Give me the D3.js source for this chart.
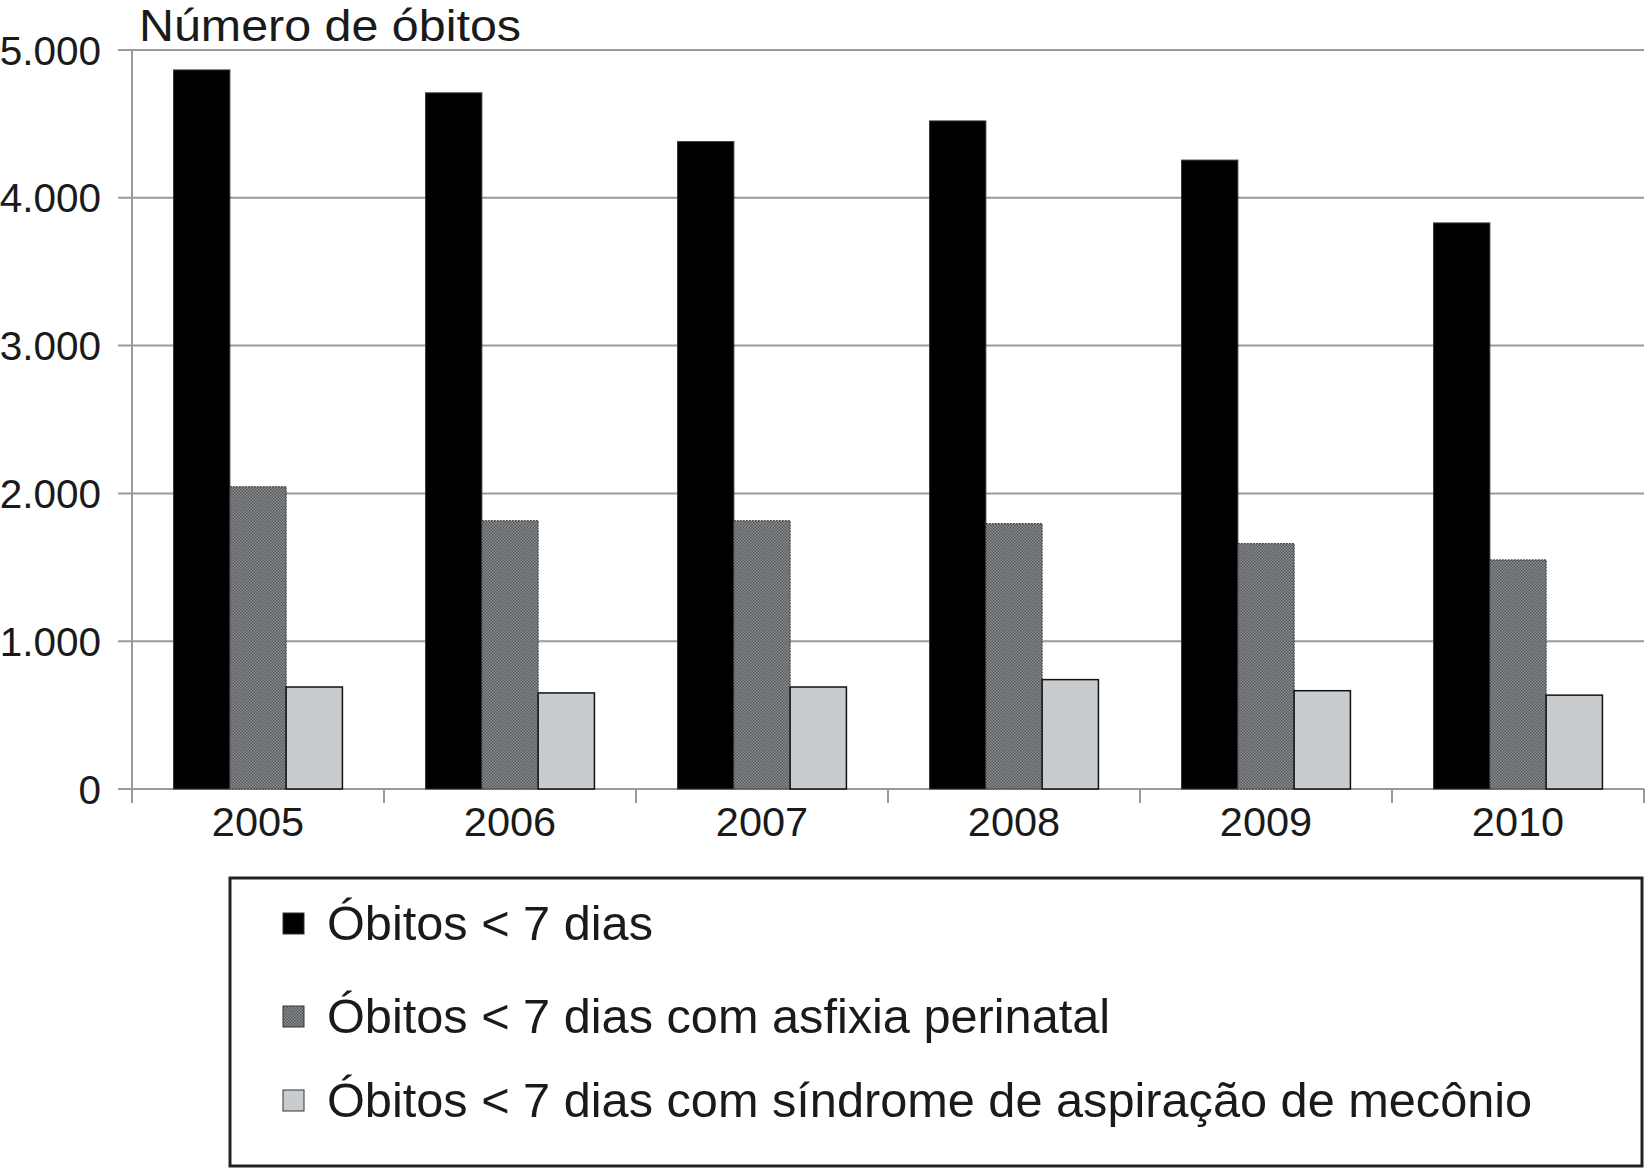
<!DOCTYPE html>
<html>
<head>
<meta charset="utf-8">
<script src="https://cdn.jsdelivr.net/npm/d3@7"></script>
<style>
  html, body { margin: 0; padding: 0; background: #fff; }
  svg { display: block; }
  text { font-family: "Liberation Sans", Arial, Helvetica, sans-serif; fill: #1a1a1a; }
</style>
</head>
<body>
<svg id="chart" width="1645" height="1170"></svg>
<script>
const years = ["2005", "2006", "2007", "2008", "2009", "2010"];
const seriesNames = [
  "Óbitos < 7 dias",
  "Óbitos < 7 dias com asfixia perinatal",
  "Óbitos < 7 dias com síndrome de aspiração de mecônio"
];
const obitos7 = [4865, 4710, 4380, 4520, 4255, 3830];
const asfixia = [2045, 1815, 1815, 1795, 1660, 1550];
const aspiracao = [690, 650, 690, 740, 665, 635];
const yTicks = [0, 1000, 2000, 3000, 4000, 5000];
const yTitle = "Número de óbitos";

const seriesValues = [obitos7, asfixia, aspiracao];

const svg = d3.select("#chart");
const defs = svg.append("defs");
const pat = defs.append("pattern").attr("id", "hatch")
  .attr("width", 3).attr("height", 3).attr("patternUnits", "userSpaceOnUse");
pat.append("rect").attr("width", 3).attr("height", 3).attr("fill", "#8d9093");
pat.append("rect").attr("x", 0).attr("y", 0).attr("width", 1.5).attr("height", 1.5).attr("fill", "#55585a");
pat.append("rect").attr("x", 1.5).attr("y", 1.5).attr("width", 1.5).attr("height", 1.5).attr("fill", "#55585a");

const fills = ["#000000", "url(#hatch)", "#c9ccce"];
const strokes = ["#333", "#333", "#111"];

const plotLeft = 132, plotRight = 1644, plotTop = 50, plotBottom = 789;

const y = d3.scaleLinear().domain([0, 5000]).range([plotBottom, plotTop]);
const x0 = d3.scaleBand().domain(years).range([plotLeft, plotRight]).paddingInner(0).paddingOuter(0);
const bw = x0.bandwidth();
const x1 = d3.scaleBand().domain(d3.range(seriesNames.length))
  .range([bw * 0.165, bw * 0.835]).padding(0);

const fmt = v => d3.format(",")(v).replace(/,/g, ".");

// gridlines
svg.append("g").selectAll("line").data(yTicks).join("line")
  .attr("x1", plotLeft - 14).attr("x2", plotRight)
  .attr("y1", d => y(d)).attr("y2", d => y(d))
  .attr("stroke", "#9a9a9a").attr("stroke-width", 2);

// y axis line
svg.append("line").attr("x1", plotLeft).attr("x2", plotLeft)
  .attr("y1", plotTop).attr("y2", plotBottom + 14)
  .attr("stroke", "#9a9a9a").attr("stroke-width", 2);

// x ticks at band boundaries
const bounds = years.map(d => x0(d)).concat([plotRight]);
svg.append("g").selectAll("line").data(bounds.slice(1)).join("line")
  .attr("x1", d => d).attr("x2", d => d)
  .attr("y1", plotBottom).attr("y2", plotBottom + 14)
  .attr("stroke", "#9a9a9a").attr("stroke-width", 2);

// y tick labels
svg.append("g").selectAll("text").data(yTicks).join("text")
  .attr("x", 101).attr("y", d => y(d)).attr("dy", "0.36em")
  .attr("text-anchor", "end").attr("font-size", 40.5)
  .text(d => fmt(d));

// bars
const groups = svg.append("g").selectAll("g").data(years).join("g")
  .attr("transform", d => `translate(${x0(d)},0)`);
groups.selectAll("rect").data((d, i) => seriesValues.map((s, k) => ({k, v: s[i]}))).join("rect")
  .attr("x", d => x1(d.k))
  .attr("width", x1.bandwidth())
  .attr("y", d => y(d.v))
  .attr("height", d => y(0) - y(d.v))
  .attr("fill", d => fills[d.k])
  .attr("stroke", d => strokes[d.k])
  .attr("stroke-width", d => d.k === 2 ? 1.5 : 1)
  .attr("stroke-dasharray", d => d.k === 1 ? "2,1" : null);

// x labels
svg.append("g").selectAll("text").data(years).join("text")
  .attr("x", d => x0(d) + bw / 2).attr("y", 836)
  .attr("text-anchor", "middle").attr("font-size", 41.5)
  .text(d => d);

// y title
svg.append("text").attr("transform", "translate(139,41) scale(1.1,1)")
  .attr("font-size", 44).text(yTitle);

// legend
svg.append("rect").attr("x", 230).attr("y", 878).attr("width", 1412).attr("height", 288)
  .attr("fill", "none").attr("stroke", "#222").attr("stroke-width", 3);
const rowY = [940, 1033, 1117];
const lg = svg.append("g").selectAll("g").data(seriesNames).join("g");
lg.append("rect")
  .attr("x", 283).attr("y", (d, i) => rowY[i] - 27)
  .attr("width", 21).attr("height", 21)
  .attr("fill", (d, i) => fills[i]).attr("stroke", "#333").attr("stroke-width", 1);
lg.append("text")
  .attr("transform", (d, i) => `translate(327,${rowY[i]}) scale(1.025,1)`)
  .attr("font-size", 47.5).text(d => d);
</script>
</body>
</html>
